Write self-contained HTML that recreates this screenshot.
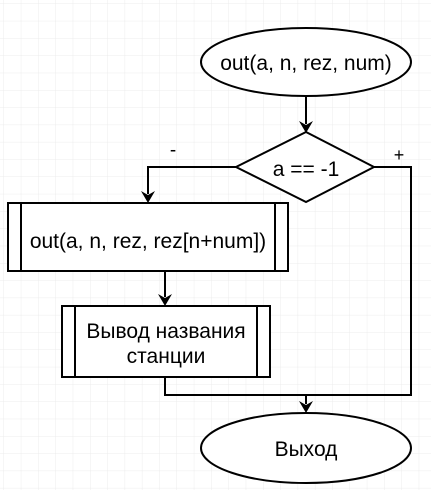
<!DOCTYPE html>
<html><head><meta charset="utf-8"><style>
html,body{margin:0;padding:0;background:#fff;}
svg{display:block;}
</style></head><body>
<svg width="431" height="490" viewBox="0 0 431 490" xmlns="http://www.w3.org/2000/svg">
<defs>
<pattern id="g" width="17.3" height="17.3" patternUnits="userSpaceOnUse" x="4" y="4">
<path d="M17.3 0V17.3M0 17.3H17.3" fill="none" stroke="#ececec" stroke-width="1"/>
</pattern>
</defs>
<rect width="431" height="490" fill="url(#g)"/>
<g stroke="#000" stroke-width="2" fill="none">
<ellipse cx="306" cy="62" rx="105" ry="34" fill="#fff"/>
<line x1="306" y1="96" x2="306" y2="124"/>
<polygon points="236,167 306,132 374,167 306,202" fill="#fff"/>
<polyline points="236,167 148,167 148,194"/>
<rect x="8" y="203" width="280" height="68" fill="#fff"/>
<line x1="21" y1="203" x2="21" y2="271"/>
<line x1="275" y1="203" x2="275" y2="271"/>
<line x1="165" y1="271" x2="165" y2="297"/>
<rect x="62" y="306" width="208" height="71" fill="#fff"/>
<line x1="75" y1="306" x2="75" y2="377"/>
<line x1="257" y1="306" x2="257" y2="377"/>
<polyline points="165,377 165,395 411,395 411,167 374,167"/>
<line x1="306" y1="395" x2="306" y2="404"/>
<ellipse cx="306" cy="448" rx="105" ry="35" fill="#fff"/>
</g>
<g fill="#000">
<polygon points="299,121 306,133 313,121 306,125"/>
<polygon points="141,191 148,203 155,191 148,195"/>
<polygon points="158,294 165,306 172,294 165,298"/>
<polygon points="299,401 306,413 313,401 306,405"/>
</g>
<g font-family="Liberation Sans, Arial, sans-serif" font-size="21" fill="#000" text-anchor="middle">
<text x="306" y="70">out(a, n, rez, num)</text>
<text x="306" y="176">a == -1</text>
<text x="148" y="248">out(a, n, rez, rez[n+num])</text>
<text x="166" y="338">Вывод названия</text>
<text x="166" y="363">станции</text>
<text x="306" y="456">Выход</text>
<text x="173" y="156" font-size="19">-</text>
<text x="399" y="161" font-size="18">+</text>
</g>
</svg>
</body></html>
